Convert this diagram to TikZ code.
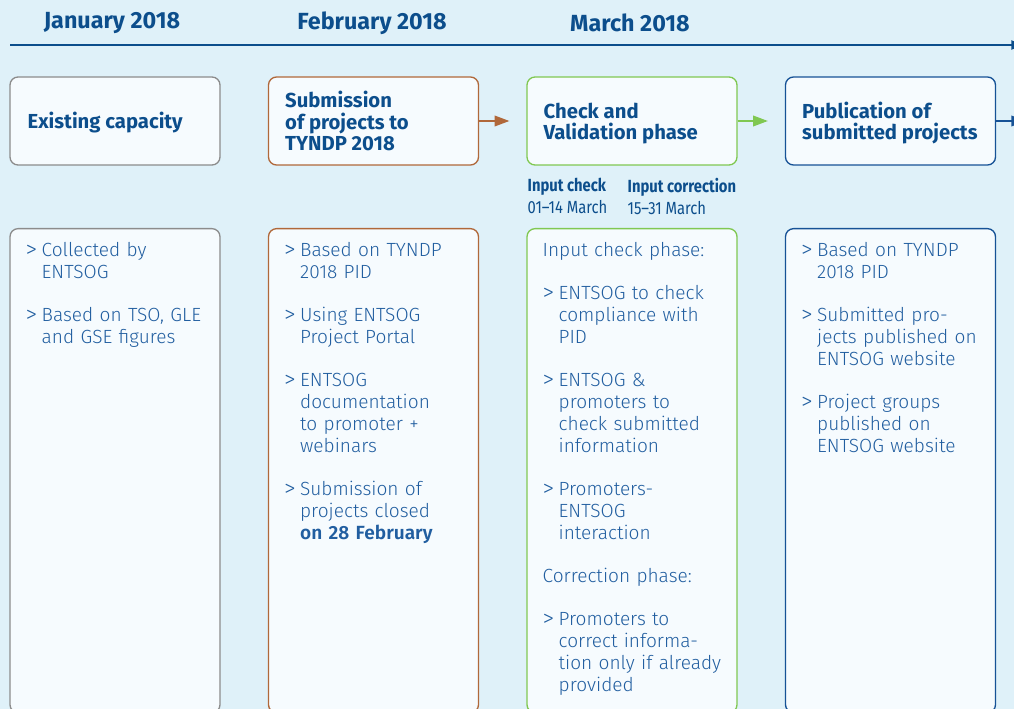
\documentclass[tikz,border=0pt]{standalone}
\usepackage{fontspec}
\setmainfont{Fira Sans}
\newfontfamily\bodyfont{Fira Sans Light}
\newfontfamily\narrowfont[FakeStretch=0.84]{Fira Sans}
\usetikzlibrary{arrows.meta}

\definecolor{bgblue}{RGB}{223,241,249}
\definecolor{boxfill}{RGB}{246,251,254}
\definecolor{headblue}{RGB}{12,78,140}
\definecolor{bodyblue}{RGB}{33,94,160}
\definecolor{greyline}{RGB}{140,140,140}
\definecolor{brownline}{RGB}{176,104,58}
\definecolor{greenline}{RGB}{128,200,82}
\definecolor{blueline}{RGB}{22,82,150}

\tikzset{every picture/.style={line width=0.5pt}}

% one list entry with a hanging ">"
\newcommand{\itm}[1]{\hangindent=12pt\hangafter=1\noindent\makebox[12pt][l]{\raisebox{-0.6pt}{\fontsize{17.5}{16.3}\selectfont >}}#1\par}
\newcommand{\gapline}{\vskip 16.3pt}

\begin{document}
\begin{tikzpicture}[x=0.75pt,y=0.75pt,yscale=-1,xscale=1,
    month/.style={text=headblue,font=\fontsize{17.5}{20}\selectfont\bfseries,inner sep=0pt},
    topbox/.style={draw=#1,fill=boxfill,line width=1pt,rounded corners=6pt,minimum width=157.5pt,minimum height=66pt},
    title/.style={anchor=west,inner sep=0pt,align=left,text=headblue,font=\fontsize{15.2}{15.8}\selectfont\bfseries},
    listbox/.style={draw=#1,fill=boxfill,line width=1pt,rounded corners=6pt,minimum width=157.5pt,minimum height=363pt,anchor=north},
    listtext/.style={anchor=north west,inner sep=0pt,text width=145pt,align=left,text=bodyblue,
        font=\bodyfont\fontsize{14.3}{16.3}\selectfont},
    phase/.style={anchor=north west,inner sep=0pt,align=left,text=headblue,font=\narrowfont\fontsize{13.2}{16.5}\selectfont},
    flow/.style={draw=#1,line width=1pt,-{Triangle[length=11pt,width=8pt]},fill=#1}]
    %set diagram size: 1014 x 709
    \useasboundingbox (0,0) rectangle (1014,709);
    \clip (0,0) rectangle (1014,709);
    \fill[bgblue] (0,0) rectangle (1014,709);

    %Shape: time axis
    \coordinate (tlA) at (10,45);
    \coordinate (tlB) at (1022,45);
    \draw[headblue,line width=1.1pt,-{Triangle[length=8pt,width=7pt]}] (tlA) -- (tlB);

    % Month labels
    \node[month] (jan) at (112,23) {January 2018};
    \node[month] (feb) at (372,23) {February 2018};
    \node[month] (mar) at (630,23) {March 2018};

    % Phase boxes
    \node[topbox=greyline] (capa) at (115,121) {};
    \node[topbox=brownline] (subm) at (373.5,121) {};
    \node[topbox=greenline] (check) at (632,121) {};
    \node[topbox=blueline] (publ) at (890.5,121) {};
    \coordinate (outR) at (1026,121);

    \node[title] (capaT) at ([xshift=13.5pt,yshift=1.5pt]capa.west) {Existing capacity};
    \node[title] (submT) at ([xshift=12.75pt]subm.west) {Submission\\of projects to\\TYNDP 2018};
    \node[title] (checkT) at ([xshift=12.75pt,yshift=1.8pt]check.west) {Check and\\Validation phase};
    \node[title] (publT) at ([xshift=12.75pt,yshift=1.8pt]publ.west) {Publication of\\submitted projects};

    \draw[flow=brownline,shorten >=12.75pt] (subm) -- (check);
    \draw[flow=greenline,shorten >=12.75pt] (check) -- (publ);
    \draw[flow=blueline] (publ) -- (outR);

    % Input check / correction dates
    \node[phase] (inchk) at ([xshift=0.75pt,yshift=9pt]check.south west) {\textbf{Input check}\\01–14 March};
    \node[phase] (incor) at ([xshift=75.75pt,yshift=9pt]check.south west) {\textbf{Input correction}\\15–31 March};

    % Detail boxes
    \node[listbox=greyline] (detA) at (115,228) {};
    \node[listbox=brownline] (detB) at (373.5,228) {};
    \node[listbox=greenline] (detC) at (632,228) {};
    \node[listbox=blueline] (detD) at (890.5,228) {};

    % Text Node
    \node[listtext] (txtA) at ([xshift=12pt,yshift=10.5pt]detA.north west)
        {\itm{Collected by\newline ENTSOG}\gapline
         \itm{Based on TSO, GLE\newline and GSE figures}};
    % Text Node
    \node[listtext] (txtB) at ([xshift=12pt,yshift=10.5pt]detB.north west)
        {\itm{Based on TYNDP\newline 2018 PID}\gapline
         \itm{Using ENTSOG\newline Project Portal}\gapline
         \itm{ENTSOG\newline documentation\newline to promoter +\newline webinars}\gapline
         \itm{Submission of\newline projects closed\newline \textbf{on 28 February}}};
    % Text Node
    \node[listtext] (txtC) at ([xshift=12pt,yshift=10.5pt]detC.north west)
        {\noindent Input check phase:\par\gapline
         \itm{ENTSOG to check\newline compliance with\newline PID}\gapline
         \itm{ENTSOG \&\newline promoters to\newline check submitted\newline information}\gapline
         \itm{Promoters-\newline ENTSOG\newline interaction}\gapline
         \noindent Correction phase:\par\gapline
         \itm{Promoters to\newline correct informa-\newline tion only if already\newline provided}};
    % Text Node
    \node[listtext] (txtD) at ([xshift=12pt,yshift=10.5pt]detD.north west)
        {\itm{Based on TYNDP\newline 2018 PID}\gapline
         \itm{Submitted pro-\newline jects published on\newline ENTSOG website}\gapline
         \itm{Project groups\newline published on\newline ENTSOG website}};
\end{tikzpicture}
\end{document}
